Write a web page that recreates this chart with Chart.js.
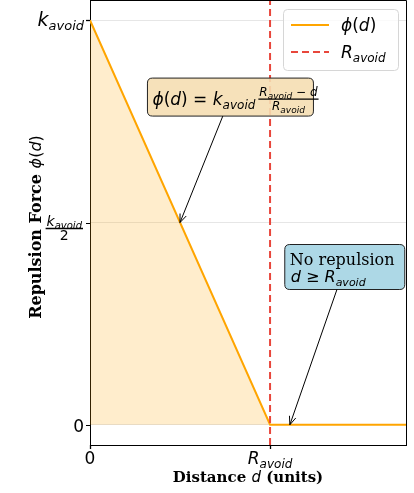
<!DOCTYPE html>
<html><head><meta charset="utf-8">
<script src="https://cdn.jsdelivr.net/npm/chart.js@4"></script>
<style>html,body{margin:0;padding:0;background:#fff}#wrap{width:414px;height:493px;position:relative}</style>
</head><body><div id="wrap"><canvas id="c" width="414" height="493"></canvas></div>
<script>
// ---- data ----
const distances = [0, 1, 1.755];
const phiValues = [1, 0, 0];
const rAvoidX = [1, 1];
const rAvoidY = [-0.05, 1.05];
const yTickValues = [0, 0.5, 1];
const xTickValues = [0, 1];
const formulaBoxAt = [0.78, 0.81];
const formulaArrowTo = [0.5, 0.5];
const noRepBoxAt = [1.415, 0.39];
const noRepArrowTo = [1.11, 0];

const SANS = '"DejaVu Sans", sans-serif';
const SERIF = '"DejaVu Serif", serif';
function fI(s){ return 'italic ' + s + 'px ' + SANS; }
function fN(s){ return s + 'px ' + SANS; }

function partsWidth(ctx, parts){ let w=0; for(const p of parts){ctx.font=p.f; w+=ctx.measureText(p.t).width + (p.gap||0);} return w; }
function drawParts(ctx, parts, x, y, align){
  const w = partsWidth(ctx, parts);
  let cx = align==='right' ? x-w : align==='center' ? x-w/2 : x;
  ctx.textBaseline='alphabetic'; ctx.textAlign='left';
  for(const p of parts){ ctx.font=p.f; ctx.fillText(p.t, cx, y+(p.dy||0)); cx += ctx.measureText(p.t).width + (p.gap||0); }
  return w;
}
function sub(base, s, b, sb, dy){ return [{t:base,f:fI(b)},{t:s,f:fI(sb),dy:dy}]; }

function drawFrac(ctx, num, den, x, lineY, align){
  const wn = partsWidth(ctx,num), wd = partsWidth(ctx,den);
  const w = Math.max(wn,wd)+2;
  const left = align==='right' ? x-w : x;
  ctx.fillStyle='#000';
  drawParts(ctx, num, left + w/2, lineY-3, 'center');
  drawParts(ctx, den, left + w/2, lineY+11, 'center');
  ctx.strokeStyle='#000'; ctx.lineWidth=1.3;
  ctx.beginPath(); ctx.moveTo(left, lineY); ctx.lineTo(left+w, lineY); ctx.stroke();
  return w;
}

function roundRect(ctx,x,y,w,h,r){
  ctx.beginPath(); ctx.moveTo(x+r,y); ctx.lineTo(x+w-r,y); ctx.quadraticCurveTo(x+w,y,x+w,y+r);
  ctx.lineTo(x+w,y+h-r); ctx.quadraticCurveTo(x+w,y+h,x+w-r,y+h); ctx.lineTo(x+r,y+h);
  ctx.quadraticCurveTo(x,y+h,x,y+h-r); ctx.lineTo(x,y+r); ctx.quadraticCurveTo(x,y,x+r,y); ctx.closePath();
}

function arrow(ctx, box, tx, ty){
  const cx = box.x+box.w/2, cy = box.y+box.h/2;
  const dx = tx-cx, dy = ty-cy;
  let t = 1;
  if (dy>0) t = Math.min(t, (box.y+box.h-cy)/dy);
  if (dy<0) t = Math.min(t, (box.y-cy)/dy);
  if (dx>0) t = Math.min(t, (box.x+box.w-cx)/dx);
  if (dx<0) t = Math.min(t, (box.x-cx)/dx);
  const sx = cx+dx*t, sy = cy+dy*t;
  ctx.strokeStyle='#000'; ctx.lineWidth=1;
  ctx.beginPath(); ctx.moveTo(sx,sy); ctx.lineTo(tx,ty); ctx.stroke();
  const ang = Math.atan2(ty-sy, tx-sx), L=9, a=0.38;
  ctx.beginPath();
  ctx.moveTo(tx - L*Math.cos(ang-a), ty - L*Math.sin(ang-a));
  ctx.lineTo(tx,ty);
  ctx.lineTo(tx - L*Math.cos(ang+a), ty - L*Math.sin(ang+a));
  ctx.stroke();
}

const decor = {
  id:'decor',
  afterDatasetsDraw(chart){
    const ctx = chart.ctx, xs = chart.scales.x, ys = chart.scales.y, a = chart.chartArea;
    ctx.save();
    ctx.strokeStyle='#000'; ctx.lineWidth=1;
    ctx.beginPath(); ctx.moveTo(a.left, a.top+0.5); ctx.lineTo(a.right+0.5, a.top+0.5); ctx.lineTo(a.right+0.5, a.bottom); ctx.stroke();
    ctx.fillStyle='#000';
    for (const v of yTickValues){
      const py = ys.getPixelForValue(v);
      ctx.beginPath(); ctx.moveTo(a.left-4, Math.round(py)+0.5); ctx.lineTo(a.left, Math.round(py)+0.5); ctx.stroke();
      if (v===1){ drawParts(ctx, sub('k','avoid',19,13,4), a.left-6, py+6, 'right'); }
      else if (v===0.5){ drawFrac(ctx, sub('k','avoid',14,10,3), [{t:'2',f:fN(14)}], a.left-7, py+6, 'right'); }
      else { drawParts(ctx, [{t:'0',f:fN(17)}], a.left-6, py+7, 'right'); }
    }
    for (const v of xTickValues){
      const px = xs.getPixelForValue(v);
      ctx.beginPath(); ctx.moveTo(Math.round(px)+0.5, a.bottom); ctx.lineTo(Math.round(px)+0.5, a.bottom+4); ctx.stroke();
      if (v===0) drawParts(ctx, [{t:'0',f:fN(17)}], px, a.bottom+19, 'center');
      else drawParts(ctx, sub('R','avoid',17,12,4), px, a.bottom+19, 'center');
    }
    ctx.fillStyle='#000';
    const xl = [{t:'Distance ',f:'bold 15px '+SERIF},{t:'d',f:fI(15)},{t:' (units)',f:'bold 15px '+SERIF}];
    drawParts(ctx, xl, (a.left+a.right)/2, 482, 'center');
    ctx.save(); ctx.translate(41, 227); ctx.rotate(-Math.PI/2);
    const yl = [{t:'Repulsion Force ',f:'bold 16px '+SERIF},{t:'\u03d5',f:fI(16)},{t:'(',f:fN(16)},{t:'d',f:fI(16)},{t:')',f:fN(16)}];
    drawParts(ctx, yl, 0, 0, 'center');
    ctx.restore();

    const lg = {x:283, y:9, w:115, h:61};
    ctx.fillStyle='rgba(255,255,255,0.8)'; ctx.strokeStyle='#d6d6d6'; ctx.lineWidth=1;
    roundRect(ctx, lg.x+0.5, lg.y+0.5, lg.w, lg.h, 4); ctx.fill(); ctx.stroke();
    ctx.strokeStyle='#ffa500'; ctx.lineWidth=2; ctx.setLineDash([]);
    ctx.beginPath(); ctx.moveTo(291, 25); ctx.lineTo(329, 25); ctx.stroke();
    ctx.strokeStyle='#e8463b'; ctx.setLineDash([7,4]);
    ctx.beginPath(); ctx.moveTo(291, 52); ctx.lineTo(329, 52); ctx.stroke();
    ctx.setLineDash([]);
    ctx.fillStyle='#000';
    drawParts(ctx, [{t:'\u03d5',f:fI(17)},{t:'(',f:fN(17)},{t:'d',f:fI(17)},{t:')',f:fN(17)}], 341, 31, 'left');
    drawParts(ctx, sub('R','avoid',17,12,4), 341, 58, 'left');

    const b1c = [xs.getPixelForValue(formulaBoxAt[0]), ys.getPixelForValue(formulaBoxAt[1])];
    const b1 = {w:166, h:38};
    b1.x = b1c[0]-b1.w/2; b1.y = b1c[1]-b1.h/2;
    ctx.fillStyle='rgba(245,222,179,0.9)'; ctx.strokeStyle='#222'; ctx.lineWidth=1;
    roundRect(ctx, b1.x, b1.y, b1.w, b1.h, 5); ctx.fill(); ctx.stroke();
    ctx.fillStyle='#000';
    const main = [{t:'\u03d5',f:fI(17)},{t:'(',f:fN(17)},{t:'d',f:fI(17)},{t:') = ',f:fN(17)},{t:'k',f:fI(17)},{t:'avoid',f:fI(12),dy:4,gap:3}];
    const wm = drawParts(ctx, main, b1.x+5, b1.y+27, 'left');
    drawFrac(ctx, [{t:'R',f:fI(12)},{t:'avoid',f:fI(9),dy:3},{t:' \u2212 d',f:fI(12)}], [{t:'R',f:fI(12)},{t:'avoid',f:fI(9),dy:3}], b1.x+5+wm, b1.y+21, 'left');
    arrow(ctx, b1, xs.getPixelForValue(formulaArrowTo[0]), ys.getPixelForValue(formulaArrowTo[1]));

    const b2c = [xs.getPixelForValue(noRepBoxAt[0]), ys.getPixelForValue(noRepBoxAt[1])];
    const b2 = {w:120, h:45}; b2.x = b2c[0]-b2.w/2; b2.y = b2c[1]-b2.h/2;
    ctx.fillStyle='rgba(173,216,230,1)'; ctx.strokeStyle='#222';
    roundRect(ctx, b2.x, b2.y, b2.w, b2.h, 5); ctx.fill(); ctx.stroke();
    ctx.fillStyle='#000';
    drawParts(ctx, [{t:'No repulsion',f:'16px '+SERIF}], b2.x+5, b2.y+20, 'left');
    drawParts(ctx, [{t:'d',f:fI(16)},{t:' \u2265 ',f:fN(16)},{t:'R',f:fI(16)},{t:'avoid',f:fI(11),dy:4}], b2.x+6, b2.y+37, 'left');
    arrow(ctx, b2, xs.getPixelForValue(noRepArrowTo[0]), ys.getPixelForValue(noRepArrowTo[1]));
    ctx.restore();
  }
};

new Chart(document.getElementById('c'), {
  type:'scatter',
  data:{datasets:[
    {label:'phi', data: distances.map((x,i)=>({x:x, y:phiValues[i]})), showLine:true, borderColor:'#ffa500', borderWidth:2,
     pointRadius:0, fill:'origin', backgroundColor:'rgba(255,165,0,0.2)', order:2},
    {label:'R_avoid', data: rAvoidX.map((x,i)=>({x:x, y:rAvoidY[i]})), showLine:true, borderColor:'#e8463b', borderWidth:2,
     borderDash:[7,4], pointRadius:0, fill:false, order:1}
  ]},
  options:{
    responsive:false, animation:false, devicePixelRatio:1,
    layout:{padding:{left:90, right:8, top:0, bottom:48}},
    plugins:{legend:{display:false}, tooltip:{enabled:false}},
    scales:{
      x:{type:'linear', min:0, max:1.755, afterBuildTicks:s=>{s.ticks=xTickValues.map(v=>({value:v}));},
         afterFit:s=>{s.height=0;}, ticks:{display:false}, grid:{display:false, drawTicks:false},
         border:{display:true, color:'#000', width:1}},
      y:{type:'linear', min:-0.05, max:1.05, afterBuildTicks:s=>{s.ticks=yTickValues.map(v=>({value:v}));},
         afterFit:s=>{s.width=0;}, ticks:{display:false}, grid:{color:'#e6e6e6', lineWidth:1, drawTicks:false},
         border:{display:true, color:'#000', width:1}}
    }
  },
  plugins:[decor]
});
</script></body></html>
